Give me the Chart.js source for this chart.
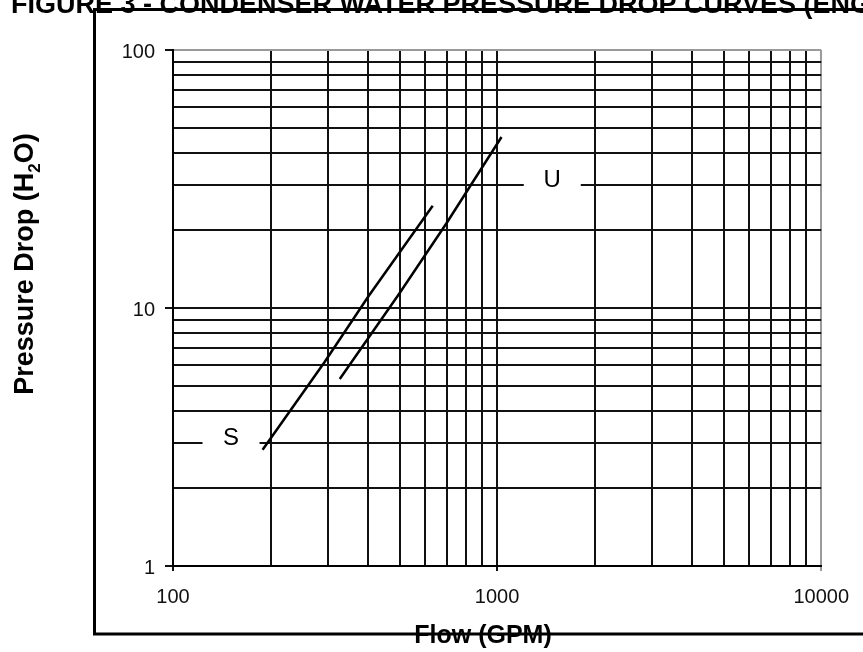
<!DOCTYPE html>
<html><head><meta charset="utf-8">
<script src="https://cdn.jsdelivr.net/npm/chart.js@4.4.1/dist/chart.umd.min.js"></script>
<style>html,body{margin:0;padding:0;background:#fff;} canvas{display:block;}</style>
</head><body>
<canvas id="c" width="863" height="652"></canvas>
<script>
const chartTitle = 'FIGURE 3 - CONDENSER WATER PRESSURE DROP CURVES (ENGLISH)';
const xAxisTitle = 'Flow (GPM)';
const yAxisTitleParts = ['Pressure Drop (H', '2', 'O)'];

const xTickValues = [100,200,300,400,500,600,700,800,900,1000,2000,3000,4000,5000,6000,7000,8000,9000,10000];
const yTickValues = [1,2,3,4,5,6,7,8,9,10,20,30,40,50,60,70,80,90,100];
const xTickLabels = [100, 1000, 10000];
const yTickLabels = [1, 10, 100];

const seriesSFlow = [189, 294, 400, 633];
const seriesSDrop = [2.82, 6.19, 11.06, 24.9];
const seriesUFlow = [327, 500, 698, 1032];
const seriesUDrop = [5.31, 11.4, 21.3, 46.0];

const curveLabels = ['S', 'U'];
const curveLabelFlow = [151, 1480];
const curveLabelDrop = [3, 30];

const FONT = '"Liberation Sans", Arial, "DejaVu Sans", sans-serif';

const decor = {
  id: 'decor',
  beforeDatasetsDraw(chart) {
    const {ctx, scales: {x, y}} = chart;
    ctx.save();
    ctx.fillStyle = '#fff';
    curveLabels.forEach((t, i) => {
      const px = x.getPixelForValue(curveLabelFlow[i]);
      const py = y.getPixelForValue(curveLabelDrop[i]);
      ctx.fillRect(px - 28.5, py - 3, 57, 6);
    });
    ctx.restore();
  },
  afterDraw(chart) {
    const {ctx, scales: {x, y}} = chart;
    ctx.save();
    ctx.fillStyle = '#000';
    // curve labels
    ctx.font = '24px ' + FONT;
    ctx.textAlign = 'center';
    ctx.textBaseline = 'middle';
    curveLabels.forEach((t, i) => {
      const px = x.getPixelForValue(curveLabelFlow[i]);
      const py = y.getPixelForValue(curveLabelDrop[i]);
      ctx.fillText(t, px, py - 5);
    });
    // chart title
    ctx.font = 'bold 27px ' + FONT;
    ctx.textAlign = 'left';
    ctx.textBaseline = 'alphabetic';
    ctx.fillText(chartTitle, 11, 13);
    // frame
    ctx.strokeStyle = '#000';
    ctx.lineWidth = 3;
    ctx.beginPath();
    ctx.moveTo(863, 9.5);
    ctx.lineTo(94.5, 9.5);
    ctx.lineTo(94.5, 634);
    ctx.lineTo(863, 634);
    ctx.stroke();
    // x title
    ctx.font = 'bold 25px ' + FONT;
    ctx.textAlign = 'center';
    ctx.fillText(xAxisTitle, 483, 643);
    // y title (rotated, with subscript)
    ctx.translate(33, 264);
    ctx.rotate(-Math.PI / 2);
    ctx.textAlign = 'left';
    const big = 'bold 27px ' + FONT, small = 'bold 17px ' + FONT;
    ctx.font = big; const w1 = ctx.measureText(yAxisTitleParts[0]).width;
    ctx.font = small; const w2 = ctx.measureText(yAxisTitleParts[1]).width;
    ctx.font = big; const w3 = ctx.measureText(yAxisTitleParts[2]).width;
    let sx = -(w1 + w2 + w3) / 2;
    ctx.font = big; ctx.fillText(yAxisTitleParts[0], sx, 0); sx += w1;
    ctx.font = small; ctx.fillText(yAxisTitleParts[1], sx, 7); sx += w2;
    ctx.font = big; ctx.fillText(yAxisTitleParts[2], sx, 0);
    ctx.restore();
  }
};

const toPoints = (xs, ys) => xs.map((v, i) => ({x: v, y: ys[i]}));

new Chart(document.getElementById('c'), {
  type: 'line',
  data: {
    datasets: [
      {label: 'S', data: toPoints(seriesSFlow, seriesSDrop), borderColor: '#000', borderWidth: 2.5, pointRadius: 0, fill: false, tension: 0},
      {label: 'U', data: toPoints(seriesUFlow, seriesUDrop), borderColor: '#000', borderWidth: 2.5, pointRadius: 0, fill: false, tension: 0}
    ]
  },
  options: {
    responsive: false,
    animation: false,
    devicePixelRatio: 1,
    layout: {padding: {left: 0, right: 41, top: 50, bottom: 0}},
    plugins: {legend: {display: false}, title: {display: false}, tooltip: {enabled: false}},
    scales: {
      x: {
        type: 'logarithmic', min: 100, max: 10000, position: 'bottom',
        afterBuildTicks: s => { s.ticks = xTickValues.map(v => ({value: v})); },
        afterFit: s => { s.height = 86; },
        ticks: {
          autoSkip: false, maxRotation: 0, minRotation: 0, padding: 14, color: '#111',
          font: {family: FONT, size: 20},
          callback: v => xTickLabels.includes(v) ? String(v) : ''
        },
        grid: {
          lineWidth: 2, tickLength: 5,
          color: c => (c.tick && c.tick.value === 10000) ? '#9a9a9a' : '#111',
          tickColor: c => (c.tick && xTickLabels.includes(c.tick.value)) ? ((c.tick.value === 10000) ? '#9a9a9a' : '#111') : 'rgba(0,0,0,0)'
        },
        border: {display: true, color: '#000', width: 2}
      },
      y: {
        type: 'logarithmic', min: 1, max: 100, position: 'left',
        afterBuildTicks: s => { s.ticks = yTickValues.map(v => ({value: v})); },
        afterFit: s => { s.width = 173; },
        ticks: {
          autoSkip: false, padding: 10, labelOffset: 2, color: '#111',
          font: {family: FONT, size: 20},
          callback: v => yTickLabels.includes(v) ? String(v) : ''
        },
        grid: {
          lineWidth: 2, tickLength: 8,
          color: c => (c.tick && c.tick.value === 100) ? '#9a9a9a' : '#111',
          tickColor: c => (c.tick && yTickLabels.includes(c.tick.value)) ? '#111' : 'rgba(0,0,0,0)'
        },
        border: {display: true, color: '#000', width: 2}
      }
    }
  },
  plugins: [decor]
});
</script>
</body></html>
